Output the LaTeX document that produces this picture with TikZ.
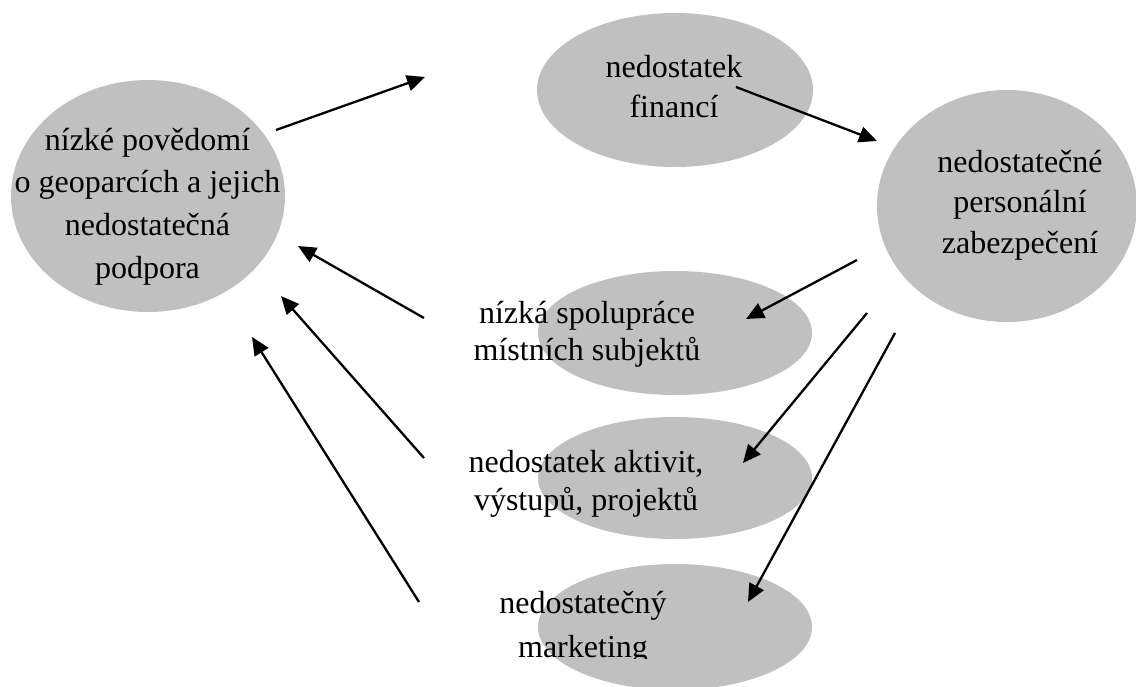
\documentclass[tikz,border=0pt]{standalone}
\usepackage{fontspec}
\setmainfont{Liberation Serif}
\usetikzlibrary{arrows.meta,shapes.geometric}
\definecolor{bubblegray}{RGB}{192,192,192}
\begin{document}
\begin{tikzpicture}[x=1pt,y=-1pt,
  bubble/.style={ellipse,fill=bubblegray,draw=none,inner sep=0pt},
  txt/.style={anchor=base,inner sep=0pt,font=\fontsize{32}{40}\selectfont},
  link/.style={line width=2.3pt,-{Triangle[length=18pt,width=16pt]}}]
\useasboundingbox (0,0) rectangle (1136,686);

% bubbles
\node[bubble,minimum width=274pt,minimum height=232pt] (povedomi) at (148,196) {};
\node[bubble,minimum width=276pt,minimum height=154pt] (finance) at (675,90) {};
\node[bubble,minimum width=260pt,minimum height=232pt] (personal) at (1007,206) {};
\node[bubble,minimum width=274pt,minimum height=124pt] (spoluprace) at (675,333) {};
\node[bubble,minimum width=274pt,minimum height=122pt] (aktivity) at (675,478) {};
\node[bubble,minimum width=274pt,minimum height=126pt] (marketing) at (675,627) {};

% labels
\node[txt] (p1) at (147.5,150) {nízké povědomí};
\node[txt] (p2) at (147.5,192) {o geoparcích a jejich};
\node[txt] (p3) at (147.5,235) {nedostatečná};
\node[txt] (p4) at (147.5,278) {podpora};

\node[txt] (f1) at (674,77) {nedostatek};
\node[txt] (f2) at (674,117) {financí};

\node[txt] (z1) at (1020,172) {nedostatečné};
\node[txt] (z2) at (1020,212) {personální};
\node[txt] (z3) at (1020,253) {zabezpečení};

\begin{scope}
  \clip (0,0) rectangle (1136,367);
  \node[txt] (s1) at (587,323) {nízká spolupráce};
  \node[txt] (s2) at (587,360) {místních subjektů};
\end{scope}

\node[txt] (a1) at (586,472) {nedostatek aktivit,};
\node[txt] (a2) at (586,510) {výstupů, projektů};

\begin{scope}
  \clip (0,0) rectangle (1136,658);
  \node[txt] (m1) at (583,613) {nedostatečný};
  \node[txt] (m2) at (583,657) {marketing};
\end{scope}

% connector ends
\coordinate (povOut) at (276,130);
\coordinate (finIn) at (425,77);
\coordinate (finOut) at (736,87);
\coordinate (perIn) at (877,141);
\coordinate (perOutA) at (857,260);
\coordinate (perOutB) at (867,313);
\coordinate (perOutC) at (895,333);
\coordinate (spoIn) at (746,319);
\coordinate (aktIn) at (743,463);
\coordinate (marIn) at (748,602);
\coordinate (spoOut) at (424,318);
\coordinate (aktOut) at (424,458);
\coordinate (marOut) at (419,602);
\coordinate (povInA) at (298,246);
\coordinate (povInB) at (281,296);
\coordinate (povInC) at (252,337);

% arrows
\draw[link] (povOut) -- (finIn);
\draw[link] (finOut) -- (perIn);
\draw[link] (perOutA) -- (spoIn);
\draw[link] (perOutB) -- (aktIn);
\draw[link] (perOutC) -- (marIn);
\draw[link] (spoOut) -- (povInA);
\draw[link] (aktOut) -- (povInB);
\draw[link] (marOut) -- (povInC);
\end{tikzpicture}
\end{document}
